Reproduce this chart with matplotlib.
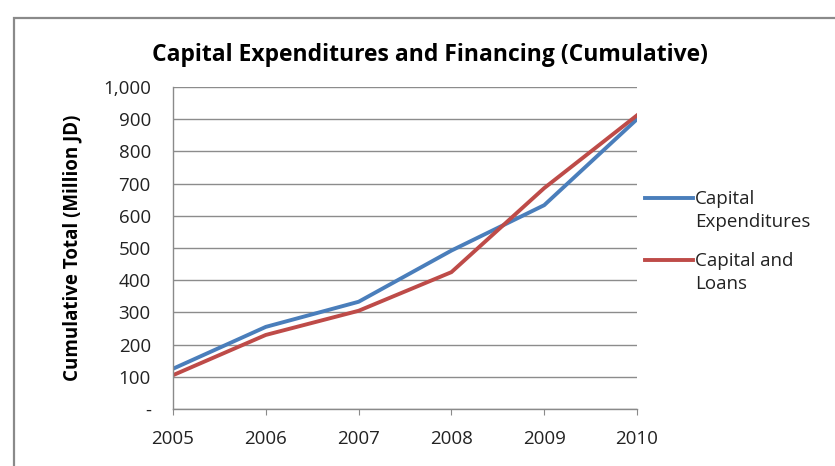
import matplotlib
matplotlib.use("Agg")
import matplotlib.pyplot as plt
from matplotlib.patches import Rectangle

# cumulative totals, million JD
years = ["2005", "2006", "2007", "2008", "2009", "2010"]
capex = [125, 255, 333, 492, 633, 900]
cap_loans = [105, 230, 305, 425, 686, 912]
yticks = [0, 100, 200, 300, 400, 500, 600, 700, 800, 900, 1000]
series = [("Capital\nExpenditures", capex, "#4a7ebb"),
          ("Capital and\nLoans", cap_loans, "#be4b48")]

plt.rcParams['font.family'] = ['Open Sans', 'DejaVu Sans']

fig = plt.figure(figsize=(8.35, 4.66), dpi=100)
fig.patch.set_facecolor("white")

# chart frame
fig.patches.append(Rectangle((14 / 835, -0.05), 1.2, 1.05 - 18 / 466,
                             transform=fig.transFigure, fill=False,
                             edgecolor="#8a8a8a", linewidth=1.6))

ax = fig.add_axes([173 / 835, 1 - 409 / 466, 464 / 835, 322 / 466])
x = range(len(years))
for label, vals, col in series:
    ax.plot(x, vals, color=col, linewidth=2.8)

ax.set_xlim(0, len(years) - 1)
ax.set_ylim(0, 1000)
ax.set_xticks(list(x))
ax.set_xticklabels(years, fontsize=13.5, color="#222222")
ax.set_yticks(yticks)
ax.set_yticklabels(["-" if v == 0 else f"{v:,}" for v in yticks],
                   fontsize=13.5, color="#222222")
ax.tick_params(axis="y", length=0, pad=16)
ax.tick_params(axis="x", length=4, direction="out", color="#8a8a8a", pad=11)
ax.grid(axis="y", color="#8c8c8c", linewidth=1)
ax.set_axisbelow(True)
for s in ["top", "right"]:
    ax.spines[s].set_visible(False)
for s in ["left", "bottom"]:
    ax.spines[s].set_color("#8a8a8a")
    ax.spines[s].set_linewidth(1)

ax.set_ylabel("Cumulative Total (Million JD)", fontsize=13.5, fontweight="bold",
              labelpad=15)
fig.text(430 / 835, 1 - 55 / 466, "Capital Expenditures and Financing (Cumulative)",
         ha="center", va="center", fontsize=16.5, fontweight="bold")

# legend: handle level with the first line of each label
for i, (label, vals, col) in enumerate(series):
    ly = 0.655 - i * 0.193
    ax.plot([1.017, 1.121], [ly, ly], color=col, linewidth=2.8,
            transform=ax.transAxes, clip_on=False)
    ax.text(1.125, ly + 0.026, label, transform=ax.transAxes, va="top",
            ha="left", fontsize=13.5, color="#222222", linespacing=1.35)

fig.savefig("out.png", dpi=100)
